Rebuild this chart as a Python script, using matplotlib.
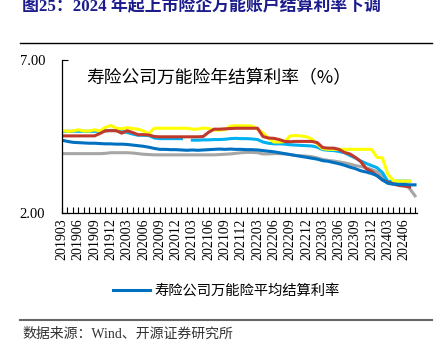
"""
寿险公司万能险结算利率走势图
"""
import numpy as np
import pandas as pd
import matplotlib
matplotlib.use("Agg")
import matplotlib.pyplot as plt
from matplotlib.lines import Line2D

plt.rcParams['font.family'] = ['Liberation Serif', 'Noto Sans CJK SC', 'DejaVu Sans']

# 月份 2019-03 ~ 2024-08
months = list(pd.period_range('2019-03', '2024-08', freq='M').strftime('%Y%m'))

avg_rate = [4.38, 4.34, 4.31, 4.30, 4.29, 4.28, 4.28, 4.27, 4.26, 4.26,
            4.25, 4.25, 4.24, 4.22, 4.20, 4.18, 4.15, 4.11, 4.08, 4.08,
            4.07, 4.07, 4.06, 4.05, 4.06, 4.05, 4.06, 4.07, 4.08, 4.09,
            4.08, 4.09, 4.08, 4.08, 4.07, 4.07, 4.06, 4.04, 4.02, 4.00,
            3.97, 3.94, 3.91, 3.88, 3.85, 3.82, 3.79, 3.76, 3.71, 3.69,
            3.65, 3.61, 3.56, 3.50, 3.45, 3.38, 3.34, 3.29, 3.22, 3.08,
            2.97, 2.94, 2.93, 2.93, 2.92, 2.92]

gray_rate = [3.94, 3.94, 3.94, 3.94, 3.94, 3.94, 3.94, 3.94, 3.95, 3.97,
             3.97, 3.97, 3.97, 3.96, 3.94, 3.92, 3.91, 3.90, 3.90, 3.90,
             3.90, 3.90, 3.90, 3.90, 3.90, 3.90, 3.90, 3.90, 3.90, 3.91,
             3.92, 3.93, 3.95, 3.97, 3.98, 3.98, 3.97, 3.93, 3.93, 3.94,
             3.94, 3.93, 3.91, 3.88, 3.87, 3.86, 3.84, 3.80, 3.75, 3.72,
             3.70, 3.67, 3.64, 3.60, 3.55, 3.52, 3.48, 3.42, 3.35, 3.18,
             3.03, 3.02, 3.01, 3.00, 2.80, 2.56]

yellow_rate = [4.70, 4.67, 4.68, 4.72, 4.68, 4.68, 4.72, 4.68, 4.80, 4.86,
               4.77, 4.75, 4.79, 4.76, 4.74, 4.68, 4.60, 4.77, 4.77, 4.77,
               4.77, 4.77, 4.77, 4.77, 4.74, 4.74, 4.78, 4.76, 4.71, 4.71,
               4.72, 4.84, 4.85, 4.85, 4.85, 4.84, 4.74, 4.62, 4.45, 4.32,
               4.32, 4.33, 4.52, 4.53, 4.52, 4.49, 4.42, 4.25, 4.10, 4.08,
               4.08, 4.08, 4.08, 4.08, 4.08, 4.08, 4.08, 4.08, 3.82, 3.80,
               3.27, 3.06, 3.04, 3.04, 3.04, np.nan]

red_rate = [4.52, 4.52, 4.52, 4.52, 4.52, 4.52, 4.52, 4.60, 4.69, 4.69,
            4.69, 4.61, 4.69, 4.63, 4.56, 4.56, 4.55, 4.50, 4.49, 4.49,
            4.49, 4.49, 4.49, 4.49, 4.49, 4.49, 4.50, 4.64, 4.74, 4.74,
            4.75, 4.76, 4.77, 4.77, 4.77, 4.77, 4.77, 4.50, 4.45, 4.44,
            4.40, 4.34, 4.33, 4.34, 4.34, 4.34, 4.34, 4.30, 4.14, 4.12,
            4.12, 4.08, 3.98, 3.93, 3.82, 3.68, 3.45, 3.36, 3.22, 3.08,
            3.00, 2.95, 2.90, 2.88, 2.85, np.nan]

cyan_rate = [4.67, 4.67, 4.67, 4.67, 4.67, 4.67, 4.67, 4.67, 4.68, 4.70,
             4.69, 4.67, 4.63, 4.58, 4.54, 4.54, 4.53, 4.45, 4.43, 4.43,
             4.43, 4.43, 4.43, np.nan, 4.38, 4.38, 4.39, 4.39, 4.40, 4.40,
             4.41, 4.43, 4.44, 4.43, 4.43, 4.42, 4.40, 4.32, 4.28, 4.26,
             4.26, 4.25, 4.23, 4.22, 4.21, 4.20, 4.19, 4.15, 4.07, 4.05,
             4.04, 4.01, 3.97, 3.88, 3.80, 3.70, 3.62, 3.55, 3.48, 3.32,
             3.03, 3.04, 3.04, 3.04, 3.04, np.nan]

fig = plt.figure(figsize=(4.45, 3.51), dpi=100)
ax = fig.add_axes([0.1393, 0.3932, 0.7982, 0.4358])
x = np.arange(len(months))

ax.plot(x, gray_rate, color='#A6A6A6', lw=2.2)
ax.plot(x, cyan_rate, color='#00B0F0', lw=2.2)
ax.plot(x, yellow_rate, color='#FFFF00', lw=2.2)
ax.plot(x, red_rate, color='#C0392B', lw=2.2)
ax.plot(x, avg_rate, color='#0070C0', lw=2.2)

ax.set_xlim(0, 65.4)
ax.set_ylim(2, 7)
ax.set_yticks([2, 7])
ax.set_yticklabels(['2.00', '7.00'], fontsize=10.5)
ax.set_xticks(x[::3])
ax.set_xticklabels(months[::3], rotation=90, fontsize=10)
ax.set_xticks(x, minor=True)
ax.tick_params(axis='x', which='both', direction='in', length=4, width=0.8, pad=4)
ax.tick_params(axis='y', direction='in', length=4, width=0.8, pad=12)
for s in ['top', 'right']:
    ax.spines[s].set_visible(False)
ax.spines['left'].set_linewidth(0.9)
ax.spines['bottom'].set_linewidth(0.9)

ax.text(0.44, 0.88, '寿险公司万能险年结算利率（%）', transform=ax.transAxes,
        ha='center', va='center', fontsize=12.8, family=['Noto Sans CJK SC'])

# 标题与分隔线
fig.text(22 / 445, 1 - 7 / 351, '图25：2024 年起上市险企万能账户结算利率下调',
         ha='left', va='center', fontsize=12.2, fontweight='bold', color='#1c1c8c')
fig.add_artist(Line2D([20 / 445, 432 / 445], [1 - 43 / 351] * 2, color='black', lw=1))
fig.add_artist(Line2D([20 / 445, 432 / 445], [1 - 320 / 351] * 2, color='#666666', lw=1.5))
fig.text(22 / 445, 1 - 334 / 351, '数据来源：Wind、开源证券研究所',
         ha='left', va='center', fontsize=10, color='#333333')

handle = Line2D([], [], color='#0070C0', lw=2.2)
fig.legend([handle], ['寿险公司万能险平均结算利率'], loc='center',
           bbox_to_anchor=(226 / 445, 1 - 291 / 351), frameon=False,
           prop={'family': ['Noto Sans CJK SC'], 'size': 10.3},
           handlelength=2.6, handletextpad=0.3)

fig.savefig('out.png', dpi=100)
